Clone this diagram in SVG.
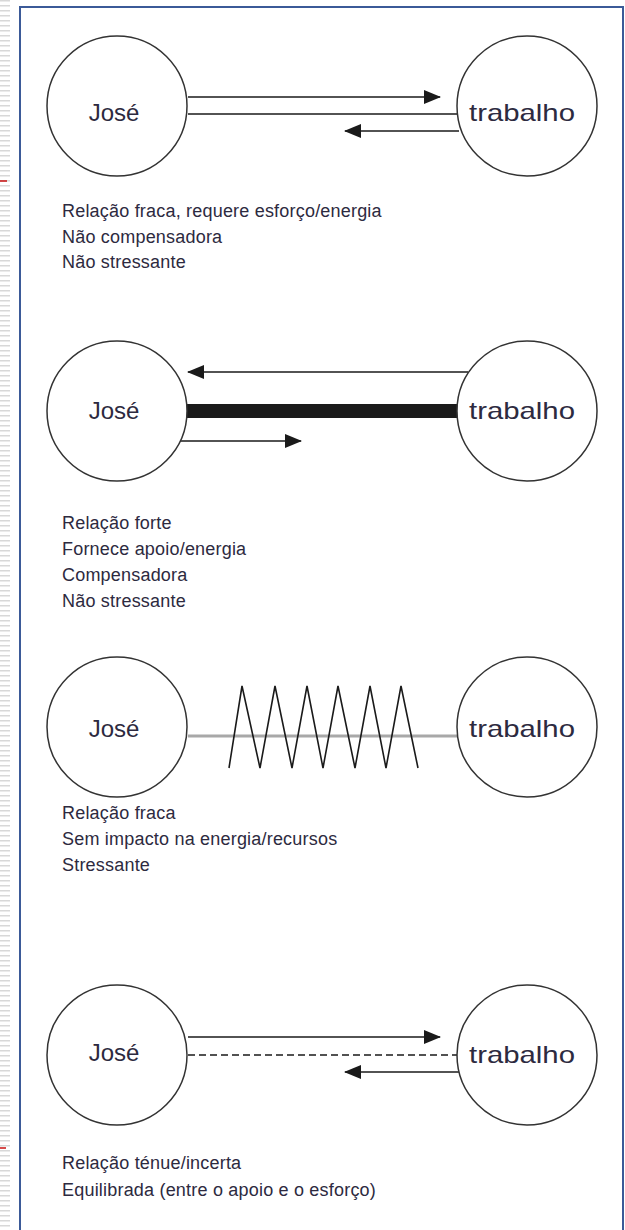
<svg xmlns="http://www.w3.org/2000/svg" width="625" height="1230" viewBox="0 0 625 1230">
<defs>
<marker id="ah" markerWidth="17" markerHeight="14" refX="16" refY="7" orient="auto" markerUnits="userSpaceOnUse">
<path d="M0,0 L17,7 L0,14 z" fill="#1a1a1a"/>
</marker>
<style>
.node circle{fill:#fff;stroke:#333;stroke-width:1.5}
.lbl{font-family:"Liberation Sans",Arial,sans-serif;font-size:24px;fill:#2d2a40;text-anchor:middle}
.cap{font-family:"Liberation Sans",Arial,sans-serif;font-size:18px;letter-spacing:0.2px;fill:#2d2a40}
.ln{stroke:#1a1a1a;stroke-width:1.6;fill:none}
</style>
</defs>
<rect width="625" height="1230" fill="#fff"/>
<line x1="5" y1="0" x2="5" y2="1230" stroke="#d8d8d8" stroke-width="10" stroke-dasharray="1.5 3.5"/>
<line x1="0" y1="181" x2="7" y2="181" stroke="#c81010" stroke-width="1.5"/>
<line x1="0" y1="1148" x2="6" y2="1148" stroke="#c81010" stroke-width="1.5"/>
<path d="M20,1232 V7 H623 V1232" fill="none" stroke="#3b5a98" stroke-width="2"/>

<g id="connectors">
<line class="ln" x1="188" y1="97" x2="440" y2="97" marker-end="url(#ah)"/>
<line class="ln" x1="188" y1="114" x2="458" y2="114"/>
<line class="ln" x1="459" y1="131" x2="345" y2="131" marker-end="url(#ah)"/>

<line class="ln" x1="468" y1="372" x2="188" y2="372" marker-end="url(#ah)"/>
<rect x="186" y="404" width="273" height="14" fill="#1a1a1a"/>
<line class="ln" x1="180" y1="441" x2="301" y2="441" marker-end="url(#ah)"/>

<line x1="188" y1="736" x2="458" y2="736" stroke="#a8a8a8" stroke-width="3"/>
<polyline class="ln" stroke-width="1.3" points="229,768 242,686 260,768 275,686 292,768 307,686 323,768 338,686 355,768 370,686 386,768 401,686 418,768"/>

<line class="ln" x1="188" y1="1037" x2="440" y2="1037" marker-end="url(#ah)"/>
<line class="ln" x1="188" y1="1055" x2="458" y2="1055" stroke-dasharray="7 4"/>
<line class="ln" x1="459" y1="1072" x2="345" y2="1072" marker-end="url(#ah)"/>
</g>

<g id="jose1" class="node"><circle cx="117" cy="106" r="70"/><text class="lbl" x="114" y="121">José</text></g>
<g id="trabalho1" class="node"><circle cx="527" cy="106" r="70"/><text class="lbl" x="522" y="121" textLength="106" lengthAdjust="spacingAndGlyphs">trabalho</text></g>
<g id="caption1">
<text class="cap" x="62" y="217">Relação fraca, requere esforço/energia</text>
<text class="cap" x="62" y="243">Não compensadora</text>
<text class="cap" x="62" y="268">Não stressante</text>
</g>

<g id="jose2" class="node"><circle cx="117" cy="411" r="70"/><text class="lbl" x="114" y="419">José</text></g>
<g id="trabalho2" class="node"><circle cx="527" cy="411" r="70"/><text class="lbl" x="522" y="419" textLength="106" lengthAdjust="spacingAndGlyphs">trabalho</text></g>
<g id="caption2">
<text class="cap" x="62" y="529">Relação forte</text>
<text class="cap" x="62" y="555">Fornece apoio/energia</text>
<text class="cap" x="62" y="581">Compensadora</text>
<text class="cap" x="62" y="607">Não stressante</text>
</g>

<g id="jose3" class="node"><circle cx="117" cy="727" r="70"/><text class="lbl" x="114" y="737">José</text></g>
<g id="trabalho3" class="node"><circle cx="527" cy="727" r="70"/><text class="lbl" x="522" y="737" textLength="106" lengthAdjust="spacingAndGlyphs">trabalho</text></g>
<g id="caption3">
<text class="cap" x="62" y="819">Relação fraca</text>
<text class="cap" x="62" y="845">Sem impacto na energia/recursos</text>
<text class="cap" x="62" y="871">Stressante</text>
</g>

<g id="jose4" class="node"><circle cx="117" cy="1055" r="70"/><text class="lbl" x="114" y="1061">José</text></g>
<g id="trabalho4" class="node"><circle cx="527" cy="1055" r="70"/><text class="lbl" x="522" y="1063" textLength="106" lengthAdjust="spacingAndGlyphs">trabalho</text></g>
<g id="caption4">
<text class="cap" x="62" y="1169">Relação ténue/incerta</text>
<text class="cap" x="62" y="1196">Equilibrada (entre o apoio e o esforço)</text>
</g>
</svg>
